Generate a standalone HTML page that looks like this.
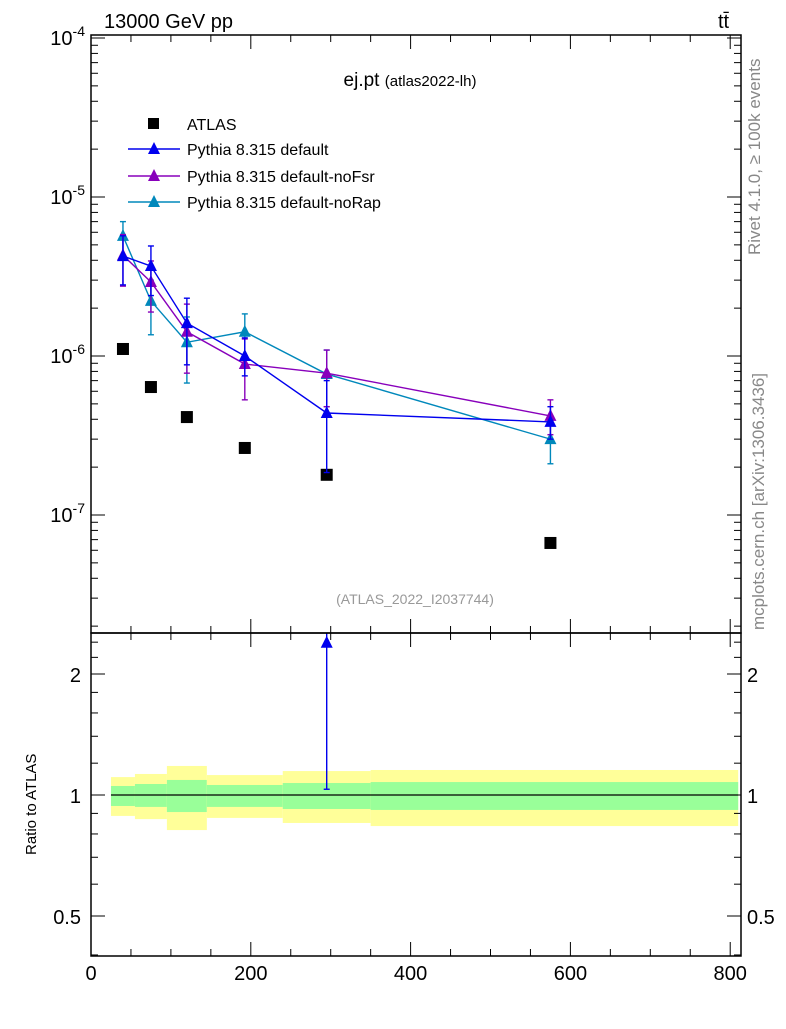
<!DOCTYPE html>
<html><head><meta charset="utf-8"><style>
body{margin:0;background:#fff;}
svg text{font-family:"Liberation Sans",sans-serif;}
</style></head><body>
<svg id="c" width="786" height="1024" xmlns="http://www.w3.org/2000/svg">
<text x="104" y="28" font-size="20">13000 GeV pp</text>
<text x="718" y="28" font-size="20">tt̄</text>
<text x="410" y="86" font-size="19" text-anchor="middle">ej.pt <tspan font-size="15">(atlas2022-lh)</tspan></text>
<text x="415" y="604" font-size="14" fill="#999" text-anchor="middle">(ATLAS_2022_I2037744)</text>
<text transform="translate(760,255) rotate(-90)" font-size="17" fill="#888">Rivet 4.1.0, ≥ 100k events</text>
<text transform="translate(764,630) rotate(-90)" font-size="17" fill="#888">mcplots.cern.ch [arXiv:1306.3436]</text>
<text transform="translate(36,855) rotate(-90)" font-size="15">Ratio to ATLAS</text>
<g id="g"></g>
</svg>
<script>
const binEdges=[25,55,95,145,240,350,810];
const xCenters=[40,75,120,192.5,295,575];
const atlasY=[1.107e-6,6.38e-7,4.13e-7,2.64e-7,1.79e-7,6.67e-8];
const statUp=[0.053,0.065,0.09,0.059,0.071,0.077];
const statDn=[0.061,0.066,0.093,0.066,0.077,0.082];
const totUp=[0.108,0.128,0.181,0.121,0.147,0.154];
const totDn=[0.113,0.129,0.182,0.123,0.148,0.163];
const defY=[4.25e-6,3.68e-6,1.61e-6,1.0e-6,4.38e-7,3.85e-7];
const defLo=[2.8e-6,2.4e-6,8.8e-7,7.5e-7,1.85e-7,3.0e-7];
const defHi=[5.7e-6,4.92e-6,2.31e-6,1.3e-6,7.0e-7,4.8e-7];
const fsrY=[4.3e-6,2.92e-6,1.42e-6,8.9e-7,7.8e-7,4.2e-7];
const fsrLo=[2.75e-6,1.89e-6,7.8e-7,5.3e-7,4.8e-7,3.2e-7];
const fsrHi=[5.8e-6,3.96e-6,2.12e-6,1.28e-6,1.09e-6,5.3e-7];
const rapY=[5.69e-6,2.22e-6,1.22e-6,1.42e-6,7.7e-7,3.0e-7];
const rapLo=[4.3e-6,1.36e-6,6.76e-7,1.0e-6,4.8e-7,2.1e-7];
const rapHi=[7.0e-6,3.0e-6,1.76e-6,1.84e-6,1.09e-6,3.9e-7];
const xTicks=[0,200,400,600,800];

const NS="http://www.w3.org/2000/svg";
const G=document.getElementById('g');
const L=91,R=741,T1=35,B1=633,B2=956;
const X=v=>91+v*0.799;
const Y=v=>356-(Math.log10(v)+6)*159;
const YR=r=>795-Math.log2(r)*121;
function el(t,a,p){const e=document.createElementNS(NS,t);for(const k in a)e.setAttribute(k,a[k]);(p||G).appendChild(e);return e;}
const defs=el('defs',{});
const c1=el('clipPath',{id:'cm'},defs);el('rect',{x:L,y:T1,width:R-L,height:B1-T1},c1);
const c2=el('clipPath',{id:'cr'},defs);el('rect',{x:L,y:B1,width:R-L,height:B2-B1},c2);
const gr=el('g',{'clip-path':'url(#cr)'});


for(let i=0;i<6;i++){
 const x0=X(binEdges[i]),x1=X(binEdges[i+1]);
 const yb=el('rect',{x:x0,y:YR(1+totUp[i]),width:x1-x0,height:YR(1-totDn[i])-YR(1+totUp[i]),fill:'#ffff99'},gr);
 
 
 const gb=el('rect',{x:x0,y:YR(1+statUp[i]),width:x1-x0,height:YR(1-statDn[i])-YR(1+statUp[i]),fill:'#99ff99'},gr);
 
 
}
const rl=el('line',{x1:X(binEdges[0]),x2:X(binEdges[6]),y1:795,y2:795,stroke:'#000','stroke-width':1.3},gr);


const gm=el('g',{'clip-path':'url(#cm)'});


for(let i=0;i<6;i++){
 const r=el('rect',{x:X(xCenters[i])-6,y:Y(atlasY[i])-6,width:12,height:12,fill:'#000'},gm);
 
 
}
function tri(x,y,col,p){return el('polygon',{points:`${x},${y-7} ${x-6},${y+5} ${x+6},${y+5}`,fill:col},p);}
function series(ys,lo,hi,col,name){
 const pts=xCenters.map((x,i)=>X(x)+','+Y(ys[i])).join(' ');
 const pl=el('polyline',{points:pts,fill:'none',stroke:col,'stroke-width':1.4},gm);
 
 
 for(let i=0;i<6;i++){
  const x=X(xCenters[i]);
  el('line',{x1:x,x2:x,y1:Y(lo[i]),y2:Y(hi[i]),stroke:col,'stroke-width':1.4},gm);
  el('line',{x1:x-3,x2:x+3,y1:Y(lo[i]),y2:Y(lo[i]),stroke:col,'stroke-width':1.4},gm);
  el('line',{x1:x-3,x2:x+3,y1:Y(hi[i]),y2:Y(hi[i]),stroke:col,'stroke-width':1.4},gm);
  const t=tri(x,Y(ys[i]),col,gm);
  
  
  const r=ys[i]/atlasY[i],rlo=lo[i]/atlasY[i],rhi=hi[i]/atlasY[i];
  if(YR(r)<B1-2||YR(r)>B2) continue;
  el('line',{x1:x,x2:x,y1:YR(rlo),y2:YR(rhi),stroke:col,'stroke-width':1.4},gr);
  el('line',{x1:x-3,x2:x+3,y1:YR(rlo),y2:YR(rlo),stroke:col,'stroke-width':1.4},gr);
  const rt=tri(x,YR(r)+4,col,gr);
  
  
 }
}
series(rapY,rapLo,rapHi,'#0088bb','pythia-norap');
series(fsrY,fsrLo,fsrHi,'#8800bb','pythia-nofsr');
series(defY,defLo,defHi,'#0000ee','pythia-default');
el('rect',{x:L,y:T1,width:R-L,height:B1-T1,fill:'none',stroke:'#000','stroke-width':1.5});
el('rect',{x:L,y:B1,width:R-L,height:B2-B1,fill:'none',stroke:'#000','stroke-width':1.5});
for(let d=-8;d<=-4;d++){for(let m=1;m<10;m++){const v=m*Math.pow(10,d);const y=Y(v);if(y<T1-0.5||y>B1)continue;const len=m==1?14:7;
 el('line',{x1:L,x2:L+len,y1:y,y2:y,stroke:'#000'});el('line',{x1:R-len,x2:R,y1:y,y2:y,stroke:'#000'});
 if(m==1){const t=el('text',{x:L-6,y:y+7,'font-size':20,'text-anchor':'end'});t.innerHTML='10<tspan dy="-9" font-size="14">'+d+'</tspan>';
 }}}
const rt=[0.4,0.5,0.6,0.7,0.8,0.9,1,1.2,1.4,1.6,1.8,2,2.2,2.4];
rt.forEach(v=>{const y=YR(v);if(y<B1||y>B2)return;const maj=(v==0.5||v==1||v==2);const len=maj?14:7;
 el('line',{x1:L,x2:L+len,y1:y,y2:y,stroke:'#000'});el('line',{x1:R-len,x2:R,y1:y,y2:y,stroke:'#000'});
 if(maj){const a=el('text',{x:L-10,y:y+8,'font-size':20,'text-anchor':'end'});a.textContent=v;
 
 const b=el('text',{x:R+6,y:y+8,'font-size':20});b.textContent=v;
 }});
for(let v=0;v<=800;v+=50){const x=X(v);const maj=v%200==0;const len=maj?14:7;
 el('line',{x1:x,x2:x,y1:T1,y2:T1+len,stroke:'#000'});
 el('line',{x1:x,x2:x,y1:B1,y2:B1-len,stroke:'#000'});
 el('line',{x1:x,x2:x,y1:B1,y2:B1+len,stroke:'#000'});
 el('line',{x1:x,x2:x,y1:B2,y2:B2-len,stroke:'#000'});}
xTicks.forEach(v=>{const t=el('text',{x:X(v),y:980,'font-size':20,'text-anchor':'middle'});t.textContent=v;
 });
const lg=el('g',{});


el('rect',{x:148,y:118,width:11,height:11,fill:'#000'},lg);
const items=[['ATLAS',null,124],['Pythia 8.315 default','#0000ee',149],['Pythia 8.315 default-noFsr','#8800bb',176],['Pythia 8.315 default-noRap','#0088bb',202]];
items.forEach(it=>{if(it[1]){el('line',{x1:128,x2:180,y1:it[2],y2:it[2],stroke:it[1],'stroke-width':1.4},lg);tri(154,it[2],it[1],lg);}
 const t=el('text',{x:187,y:it[2]+6,'font-size':16},lg);t.textContent=it[0];
 });
</script>
</body></html>
